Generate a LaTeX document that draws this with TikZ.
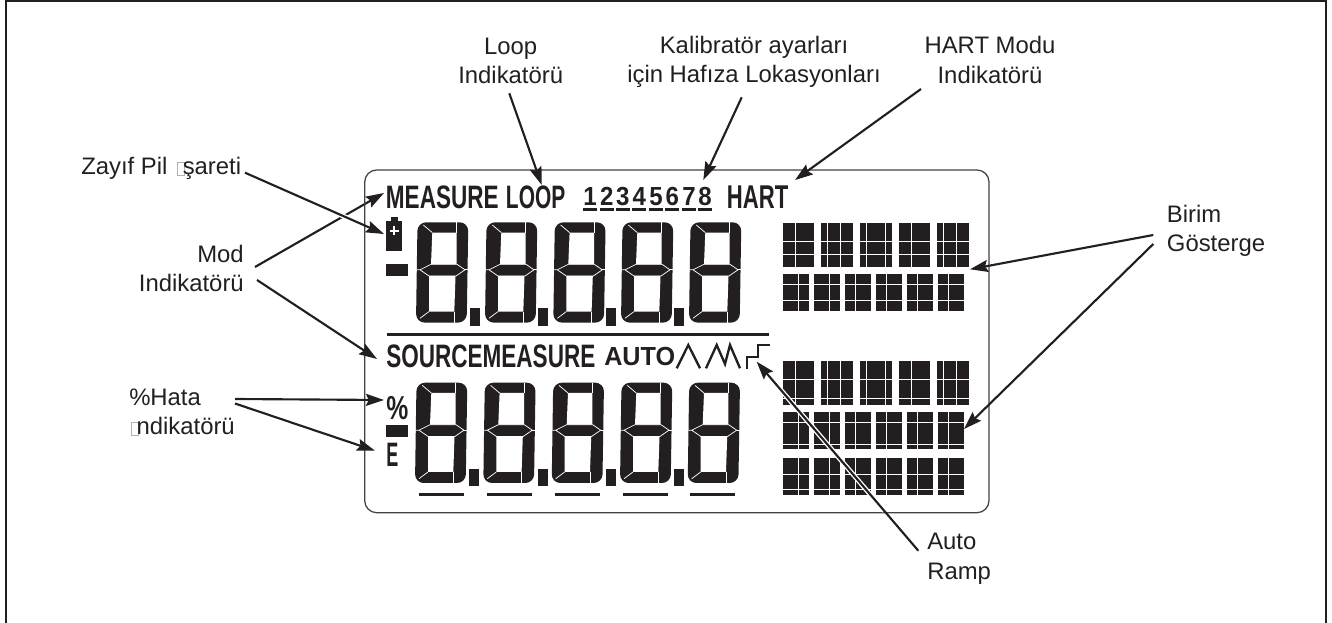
\documentclass[tikz,border=0pt]{standalone}
\usepackage{fontspec}
\setmainfont{Liberation Sans}
\usetikzlibrary{arrows.meta}
\definecolor{ink}{HTML}{231F20}
\newcommand\tofu{{\color{black!30}\fboxsep=0pt\fboxrule=.45pt\fbox{\rule{0pt}{9.6pt}\hspace*{5.2pt}}}\kern-1.6pt}
\tikzset{
  lbl/.style={text=ink,inner sep=0pt,font=\fontsize{17.9}{22}\selectfont},
  lcdtxt/.style={text=ink,inner sep=0pt,anchor=south west,font=\fontsize{20}{20}\selectfont\bfseries},
  arrow/.style={draw=ink,line width=1.6pt,-{Stealth[length=13.5pt,width=9pt,inset=2pt]}},
  halo/.style={draw=white,line width=3.6pt},
  seg/.style={draw=white,line width=.55pt},
  lcdline/.style={draw=ink,line width=1.75pt,miter limit=10},
  lcdfill/.style={fill=ink},
  outerframe/.style={draw=ink,line width=1.6pt},
  lcdframe/.style={draw=ink!85,line width=.95pt,rounded corners=9pt}
}
\newcommand\lcddigit[2]{%
  \begin{scope}[shift={(#1,#2)}]
    \fill[lcdfill,rounded corners=6.5pt] (1.5,0) -- (52.3,0) -- (50.7,100.3) -- (0,100.3) -- cycle;
    \fill[white] (16.3,10.3) -- (40.7,10.3) -- (40.7,42) -- (15,42) -- cycle;
    \fill[white] (13,53.7) -- (39.5,53.7) -- (38.3,89.3) -- (13,89.3) -- cycle;
    \draw[seg] (0.5,47.5) -- (4,47.5) -- (15,42) -- (41,42) -- (49,47.5) -- (40,53.7) -- (13,53.7) -- (4,47.5);
    \draw[seg] (49,47.5) -- (52,47.5);
    \draw[seg] (7.3,2.7) -- (16.3,10.3);
    \draw[seg] (40.7,0) -- (40.7,10.3);
    \draw[seg] (4,96) -- (13,89.3);
    \draw[seg] (38.3,89.3) -- (38.3,100.3);
  \end{scope}}
% block: x0,x1,y0,y1, vertical separators, horizontal separators
\newcommand\gridblk[6]{%
  \fill[lcdfill] (#1,#3) rectangle (#2,#4);
  \foreach \v in {#5} {\draw[white,line width=.7pt] (\v,#3) -- (\v,#4);}
  \foreach \h in {#6} {\draw[white,line width=.7pt] (#1,\h) -- (#2,\h);}}
\newcommand\rowfive[3]{%
  \gridblk{39}{132}{#1}{#2}{75}{#3}
  \gridblk{153}{249}{#1}{#2}{172,211}{#3}
  \gridblk{270}{366}{#1}{#2}{289,347}{#3}
  \gridblk{387}{480}{#1}{#2}{424}{#3}
  \gridblk{501}{597}{#1}{#2}{519,558}{#3}}
\newcommand\rowsix[3]{%
  \gridblk{39}{117}{#1}{#2}{86}{#3}
  \gridblk{132}{210}{#1}{#2}{179}{#3}
  \gridblk{225}{303}{#1}{#2}{257}{#3}
  \gridblk{318}{396}{#1}{#2}{350}{#3}
  \gridblk{411}{489}{#1}{#2}{443}{#3}
  \gridblk{504}{582}{#1}{#2}{536}{#3}}
\begin{document}
\begin{tikzpicture}[x=.75pt,y=-.75pt]
\useasboundingbox (0,0) rectangle (1332,623);
\draw[outerframe] (6,623) -- (6,1) -- (1326,1) -- (1326,623);

% labels (the base of a multi-line node is its last line)
\node[lbl,anchor=base,align=center] (loop) at (510.7,84) {Loop\\Indikatörü};
\node[lbl,anchor=base,align=center] (mem) at (754,83) {Kalibratör ayarları\\için Hafıza Lokasyonları};
\node[lbl,anchor=base,align=center] (hart) at (990,83.3) {HART Modu\\Indikatörü};
\node[lbl,anchor=base west] (low) at (81,175) {Zayıf Pil\hspace{2pt} \tofu şareti};
\node[lbl,anchor=base east,align=right] (mod) at (244,291.7) {Mod\\Indikatörü};
\node[lbl,anchor=base west,align=left] (hata) at (129,435) {\%Hata\\\kern1pt\tofu ndikatörü};
\node[lbl,anchor=base west,align=left] (birim) at (1166.7,251.7) {Birim\\Gösterge};
\node[lbl,anchor=base west,align=left] (ramp) at (927,579) {Auto\\Ramp};

% connector ends
\coordinate (loopT) at (509.3,93.3);   \coordinate (loopH) at (541.7,185);
\coordinate (memT) at (741.7,97.3);    \coordinate (memH) at (703.3,180);
\coordinate (hartT) at (921,89);       \coordinate (hartH) at (795,180);
\coordinate (lowT) at (245,172.7);     \coordinate (lowH) at (384,234);
\coordinate (modTa) at (255,267);      \coordinate (modHa) at (384,193);
\coordinate (modTb) at (257,280);      \coordinate (modHb) at (377,359);
\coordinate (hataTa) at (235,399);     \coordinate (hataHa) at (384,400);
\coordinate (hataTb) at (235,403.5);   \coordinate (hataHb) at (375,450.7);
\coordinate (birTa) at (1153.3,235);   \coordinate (birHa) at (970,269.3);
\coordinate (birTb) at (1153.3,244);   \coordinate (birHb) at (964,429);
\coordinate (rampT) at (918.3,550.7);  \coordinate (rampH) at (756.7,361.7);

\draw[arrow] (modTa) -- (modHa);
\draw[halo] (lowT) -- (lowH);

% LCD frame
\draw[lcdframe] (364.7,170) rectangle (989,512.7);

% top line of LCD text
\node[lcdtxt] (tmeas) at (385.7,209) {\resizebox{84.5pt}{17pt}{MEASURE}};
\node[lcdtxt] (tloop) at (505.7,209) {\resizebox{44.5pt}{17pt}{LOOP}};
\node[lcdtxt] (thart) at (726.7,209) {\resizebox{46pt}{17pt}{HART}};
\foreach \n/\cx/\b in {1/590/583.3,2/606.7/600,3/622.7/616,4/639.3/632,5/656/649.3,6/672.3/665.3,7/689/682.3,8/705/698.3}{
  \node[text=ink,inner sep=0pt,anchor=base,font=\fontsize{19.6}{20}\selectfont\bfseries] (num\n) at (\cx,205.7) {\scalebox{.92}[1]{\n}};
  \fill[lcdfill] (\b,208.3) rectangle ++(13.6,2.4);
}

% battery and minus
\fill[lcdfill] (386,221) rectangle (402.3,251);
\fill[lcdfill] (390.7,216.7) rectangle (398.3,222);
\draw[white,line width=1.5pt] (394.3,226.5) -- (394.3,235);
\draw[white,line width=1.5pt] (390,230.7) -- (398.6,230.7);
\fill[lcdfill] (386,264) rectangle (408,276);

% main digits
\foreach \x in {416,485,553.3,621,689} {\lcddigit{\x}{222.3}}
\foreach \x in {470,538.3,606,674} {\fill[lcdfill] (\x,308.3) rectangle ++(10,17.3);}

% rule
\fill[lcdfill] (386.7,332.8) rectangle (769,335.8);

% second line of LCD text
\node[lcdtxt] (tsrc) at (386,368.3) {\resizebox{156.8pt}{17pt}{SOURCEMEASURE}};
\node[lcdtxt] (tauto) at (604,366.3) {\resizebox{53.2pt}{13.7pt}{AUTO}};
\draw[lcdline] (676.7,368.3) -- (688.3,345) -- (700,368.3);
\draw[lcdline] (706,368.3) -- (716.7,345) -- (725,364) -- (730,345) -- (740,368.3);
\draw[lcdline] (746.7,369.3) -- (746.7,356.7) -- (758.3,356.7) -- (758.3,345) -- (770,345);

% left symbols second display
\node[lcdtxt] (tpct) at (386,420) {\resizebox{16.5pt}{17.3pt}{\%}};
\fill[lcdfill] (386,425) rectangle (408,436.7);
\node[lcdtxt] (te) at (386,466.7) {\resizebox{9pt}{17.5pt}{E}};

% second digits
\foreach \x in {415,483.3,551.7,620,687.7} {\lcddigit{\x}{382.7}}
\foreach \x in {469,537.7,606,674} {\fill[lcdfill] (\x,469) rectangle ++(10,17.3);}
\foreach \x in {419,487.3,555.3,623.3,690.3} {\fill[lcdfill] (\x,493.3) rectangle ++(45,2.4);}

% unit grids
\begin{scope}[shift={(770,200)},x=.25pt,y=-.25pt]
  \rowfive{68}{201}{124,162}
  \rowsix{222}{332}{252,300}
\end{scope}
\begin{scope}[shift={(770,350)},x=.25pt,y=-.25pt]
  \rowfive{33}{165}{88,145}
  \rowsix{186}{297}{217,282}
  \rowsix{324}{435}{372,418}
\end{scope}

% connectors
\draw[arrow] (loopT) -- (loopH);
\draw[arrow] (memT) -- (memH);
\draw[arrow] (hartT) -- (hartH);
\draw[arrow] (lowT) -- (lowH);
\draw[arrow] (modTb) -- (modHb);
\draw[arrow] (hataTa) -- (hataHa);
\draw[arrow] (hataTb) -- (hataHb);
\draw[arrow] (birTa) -- (birHa);
\draw[arrow] (birTb) -- (birHb);
\path (rampH) -- coordinate[pos=.1] (hs) coordinate[pos=.79] (he) (rampT);
\draw[halo] (hs) -- (he);
\draw[arrow] (rampT) -- (rampH);
\end{tikzpicture}
\end{document}
